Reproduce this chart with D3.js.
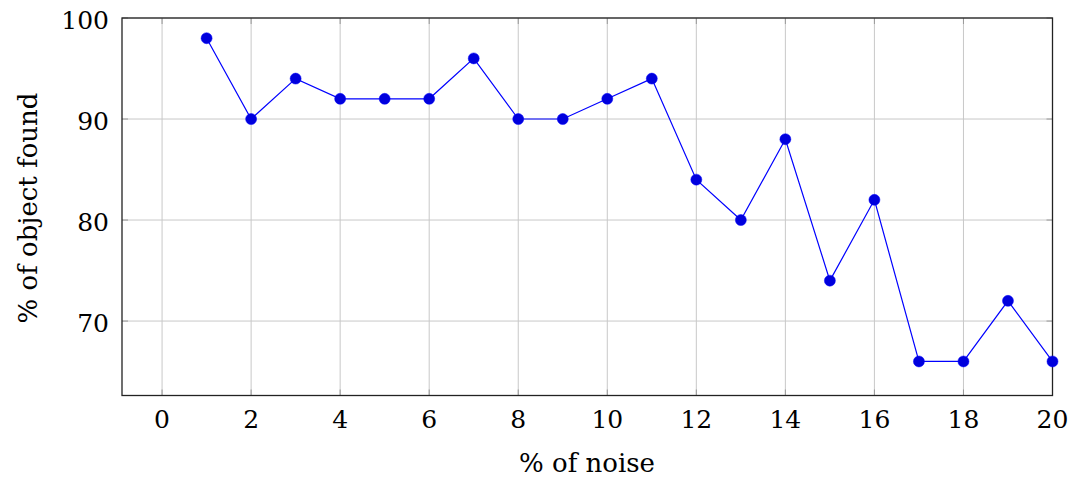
<!DOCTYPE html>
<html><head><meta charset="utf-8">
<script src="https://cdn.jsdelivr.net/npm/d3@7"></script>
<style>body{margin:0;background:#fff}svg{display:block}</style>
</head><body>
<svg id="c" width="1074" height="478"></svg>
<script>
const noise = [1,2,3,4,5,6,7,8,9,10,11,12,13,14,15,16,17,18,19,20];
const found = [98,90,94,92,92,92,96,90,90,92,94,84,80,88,74,82,66,66,72,66];
const xTicks = [0,2,4,6,8,10,12,14,16,18,20];
const yTicks = [70,80,90,100];
const xLabel = "% of noise";
const yLabel = "% of object found";

const FONT = "DejaVu Serif";
const svg = d3.select("#c");
const L = 122, R = 1052.5, T = 18, B = 395.5;
const x = d3.scaleLinear().domain([-0.9, 20]).range([L, R]);
const y = d3.scaleLinear().domain([62.63, 100]).range([B, T]);

const g = svg.append("g");
g.selectAll(".gx").data(xTicks).join("line")
  .attr("x1", d => x(d)).attr("x2", d => x(d)).attr("y1", T).attr("y2", B)
  .attr("stroke", "#c8c8c8").attr("stroke-width", 1);
g.selectAll(".gy").data(yTicks).join("line")
  .attr("y1", d => y(d)).attr("y2", d => y(d)).attr("x1", L).attr("x2", R)
  .attr("stroke", "#c8c8c8").attr("stroke-width", 1);
const tl = 6;
xTicks.forEach(d => {
  g.append("line").attr("x1", x(d)).attr("x2", x(d)).attr("y1", B).attr("y2", B - tl).attr("stroke", "#999");
  g.append("line").attr("x1", x(d)).attr("x2", x(d)).attr("y1", T).attr("y2", T + tl).attr("stroke", "#999");
});
yTicks.forEach(d => {
  g.append("line").attr("y1", y(d)).attr("y2", y(d)).attr("x1", L).attr("x2", L + tl).attr("stroke", "#999");
  g.append("line").attr("y1", y(d)).attr("y2", y(d)).attr("x1", R).attr("x2", R - tl).attr("stroke", "#999");
});
g.append("rect").attr("x", L).attr("y", T).attr("width", R - L).attr("height", B - T)
  .attr("fill", "none").attr("stroke", "#222").attr("stroke-width", 1.3);

g.selectAll(".xl").data(xTicks).join("text")
  .attr("x", d => x(d)).attr("y", 428).attr("text-anchor", "middle")
  .attr("font-family", FONT).attr("font-size", 25).text(d => d);
g.selectAll(".yl").data(yTicks).join("text")
  .attr("x", 109).attr("y", d => y(d) + 11).attr("text-anchor", "end")
  .attr("font-family", FONT).attr("font-size", 25).text(d => d);

svg.append("text").attr("x", 587).attr("y", 472).attr("text-anchor", "middle")
  .attr("font-family", FONT).attr("font-size", 26).text(xLabel);
svg.append("text").attr("transform", `translate(37,208) rotate(-90)`)
  .attr("text-anchor", "middle").attr("font-family", FONT).attr("font-size", 26).text(yLabel);

const data = noise.map((n, i) => ({n, v: found[i]}));
svg.append("path").datum(data)
  .attr("d", d3.line().x(d => x(d.n)).y(d => y(d.v)))
  .attr("fill", "none").attr("stroke", "#0000ff").attr("stroke-width", 1.2);
svg.selectAll(".pt").data(data).join("circle")
  .attr("cx", d => x(d.n)).attr("cy", d => y(d.v)).attr("r", 5.5)
  .attr("fill", "#0000dd").attr("stroke", "#0000ff").attr("stroke-width", 0.5);
</script>
</body></html>
